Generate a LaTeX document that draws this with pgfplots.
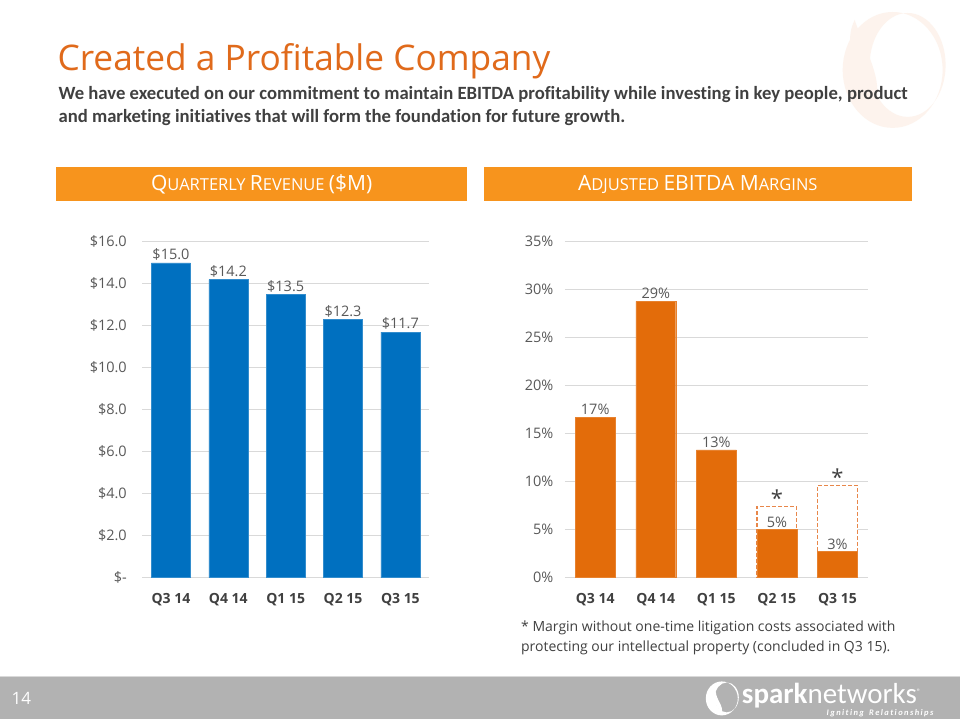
\documentclass[border=0pt]{standalone}
\usepackage{fontspec}
\setmainfont{Open Sans}
\newfontfamily\carlito[Ligatures={NoCommon}]{Carlito}
\usepackage{pgfplots}
\pgfplotsset{compat=1.18}
\definecolor{revblue}{HTML}{0070C0}
\definecolor{ebitda}{HTML}{E36C0A}
\definecolor{hdr}{HTML}{F7941D}
\definecolor{ttl}{HTML}{E06A1B}
\definecolor{gridc}{HTML}{D9D9D9}
\definecolor{tickc}{HTML}{595959}
\definecolor{xlab}{HTML}{404040}
\definecolor{dashc}{HTML}{E8874A}
\definecolor{footc}{HTML}{B2B2B2}
\definecolor{wm}{HTML}{FDF3ED}
\pgfplotsset{
  /pgf/number format/assume math mode=true,
  sparkaxis/.style={
    scale only axis,
    anchor=south west,
    axis line style={draw=none},
    tick style={draw=none},
    ymajorgrids,
    grid style={gridc, line width=0.8pt},
    xmin=-0.5, xmax=4.5,
    ymin=0,
    xtick={0,1,2,3,4},
    xticklabels={Q3 14,Q4 14,Q1 15,Q2 15,Q3 15},
    xticklabel style={font=\bfseries\fontsize{14}{16}\selectfont, text=xlab, yshift=-8pt},
    yticklabel style={font=\fontsize{14.5}{16}\selectfont, text=tickc},
    every node near coord/.append style={font=\fontsize{14.5}{16}\selectfont, text=tickc, inner sep=2pt},
  },
}
\begin{document}
\begin{tikzpicture}[x=1pt,y=1pt]
\fill[white] (0,0) rectangle (960,720);
% watermark top right
\fill[wm, even odd rule] (893,650) ellipse [x radius=50, y radius=58] (908,655) ellipse [x radius=38, y radius=52];
\fill[wm] (855,700) .. controls (840,670) and (865,640) .. (875,612) .. controls (885,640) and (865,670) .. (855,700);
% title
\node[anchor=base west, inner sep=0, font=\fontsize{35.3}{40}\selectfont, text=ttl] at (57,649) {Created a Profitable Company};
\node[anchor=base west, inner sep=0, font=\carlito\bfseries\fontsize{18.7}{23}\selectfont, text=xlab] at (58,620) {We have executed on our commitment to maintain EBITDA profitability while investing in key people, product};
\node[anchor=base west, inner sep=0, font=\carlito\bfseries\fontsize{18.7}{23}\selectfont, text=xlab] at (58,597) {and marketing initiatives that will form the foundation for future growth.};
% headers
\fill[hdr] (56,519) rectangle (467,553);
\fill[hdr] (484,519) rectangle (912,553);
\node[text=white, inner sep=0, anchor=base] at (261.5,529) {\fontsize{21}{24}\selectfont Q\fontsize{16.5}{18}\selectfont UARTERLY \fontsize{21}{24}\selectfont R\fontsize{16.5}{18}\selectfont EVENUE \fontsize{21}{24}\selectfont(\$M)};
\node[text=white, inner sep=0, anchor=base] at (698,529) {\fontsize{21}{24}\selectfont A\fontsize{16.5}{18}\selectfont DJUSTED \fontsize{21}{24}\selectfont EBITDA M\fontsize{16.5}{18}\selectfont ARGINS};
% revenue chart
\begin{axis}[sparkaxis,
  at={(142pt,142pt)}, width=287pt, height=336pt,
  ymax=16, ytick={0,2,...,16},
  yticklabels={\$-,\$2.0,\$4.0,\$6.0,\$8.0,\$10.0,\$12.0,\$14.0,\$16.0},
  yticklabel style={xshift=-12pt},
  ybar, bar width=39pt,
  nodes near coords={\$\pgfmathprintnumber[fixed,fixed zerofill,precision=1]{\pgfplotspointmeta}},
]
\addplot[fill=revblue, draw=revblue!80!white, bar shift=0pt] coordinates {(0,15.0) (1,14.2) (2,13.5) (3,12.3) (4,11.7)};
\end{axis}
% EBITDA chart
\begin{axis}[sparkaxis,
  at={(565pt,142pt)}, width=303pt, height=336pt,
  ymax=35, ytick={0,5,...,35},
  yticklabel={\pgfmathprintnumber{\tick}\%},
  yticklabel style={xshift=-8pt},
  ybar, bar width=40pt,
]
\addplot[fill=white, draw=dashc, line width=1.3pt, dash pattern=on 3.5pt off 2.5pt, bar shift=0pt,
  nodes near coords={*}, every node near coord/.append style={font=\fontsize{22}{22}\selectfont, text=xlab, inner sep=0pt, yshift=-1pt}]
  coordinates {(3,7.4) (4,9.6)};
\addplot[fill=ebitda, draw=ebitda!85!white, bar shift=0pt,
  nodes near coords={\pgfmathprintnumber[fixed,precision=0]{\pgfplotspointmeta}\%}]
  coordinates {(0,16.7) (1,28.8) (2,13.3) (3,5.0) (4,2.7)};
\end{axis}
% footnote
\node[anchor=base west, inner sep=0, font=\fontsize{14}{16}\selectfont, text=xlab] at (521,88) {* Margin without one-time litigation costs associated with};
\node[anchor=base west, inner sep=0, font=\fontsize{14}{16}\selectfont, text=xlab] at (521,68) {protecting our intellectual property (concluded in Q3 15).};
% footer bar
\fill[footc] (0,0) rectangle (960,43);
\draw[white!85!black, line width=0.8pt] (0,43) -- (960,43);
\node[anchor=base west, inner sep=0, text=white, font=\fontsize{17}{20}\selectfont] at (11,15) {14};
% logo icon
\fill[white, even odd rule] (722,21) ellipse [x radius=16, y radius=17] (727,22) ellipse [x radius=12, y radius=15];
\fill[white] (716,28) .. controls (710,20) and (718,12) .. (722,6) .. controls (724,14) and (716,20) .. (716,28);
\node[anchor=base west, inner sep=0, text=white, font=\carlito\fontsize{29}{30}\selectfont] at (742,16) {\bfseries spark\mdseries networks\raisebox{9pt}{\fontsize{8}{8}\selectfont ®}};
\node[anchor=base east, inner sep=0, text=white, font=\carlito\itshape\bfseries\fontsize{8.5}{9}\selectfont] at (934,4) {I\,g\,n\,i\,t\,i\,n\,g\, \ R\,e\,l\,a\,t\,i\,o\,n\,s\,h\,i\,p\,s};
\end{tikzpicture}
\end{document}
